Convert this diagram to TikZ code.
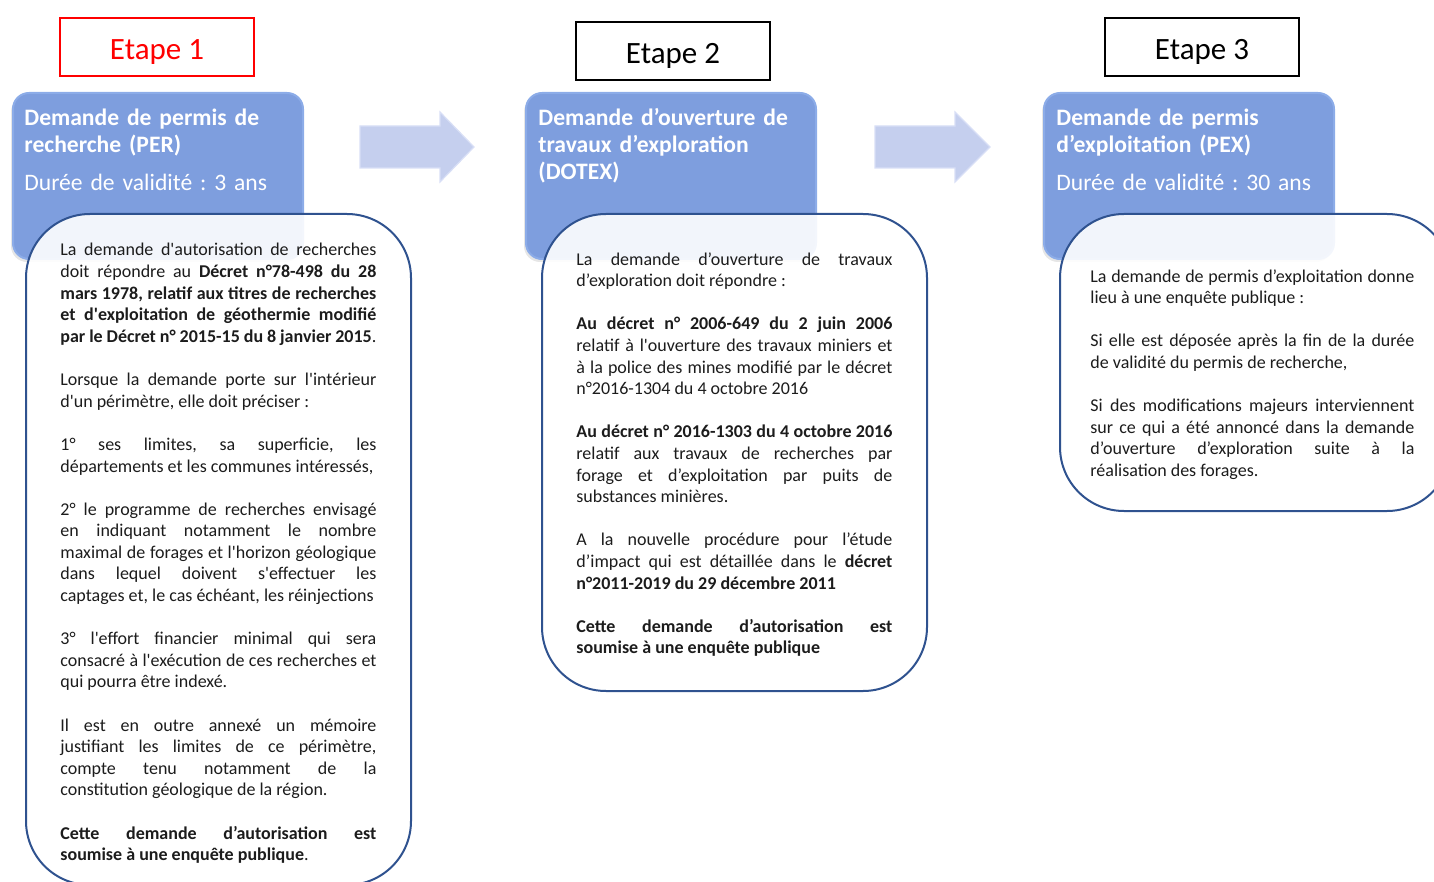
\documentclass[tikz,border=0pt]{standalone}
\usepackage{fontspec}
\setmainfont{Carlito}[Ligatures=TeXOff]
\usetikzlibrary{positioning,shadows}

\definecolor{permisblue}{RGB}{126,158,222}
\definecolor{permisedge}{RGB}{140,172,232}
\definecolor{flowarrow}{RGB}{197,207,238}
\definecolor{flowedge}{RGB}{216,223,246}
\definecolor{frameblue}{RGB}{47,82,143}
\definecolor{bodygray}{RGB}{28,28,28}

\tolerance=10000
\hbadness=10000
\hyphenpenalty=10000
\exhyphenpenalty=10000
\frenchspacing

% one empty line between two paragraphs
\newcommand{\blank}{\par\vspace{10.8pt}}

\begin{document}
\begin{tikzpicture}[x=0.5pt,y=-0.5pt,
    etape/.style={%
      rectangle, draw=black, line width=1pt, fill=white,
      minimum width=97pt, minimum height=29pt, inner sep=0pt,
      text height=13pt, text depth=0pt,
      font=\fontsize{15.5}{18}\selectfont
    },
    titlebox/.style={%
      rectangle, rounded corners=8pt, fill=permisblue, draw=permisedge,
      line width=1pt, minimum width=145pt, minimum height=83pt,
      anchor=north west,
      drop shadow={opacity=0.2, shadow xshift=-1pt, shadow yshift=-1.5pt}
    },
    titletext/.style={%
      anchor=base west, inner sep=0pt, text width=140pt, align=left,
      text=white, font=\fontsize{11.8}{13.5}\selectfont
    },
    bodybox/.style={%
      rectangle, rounded corners=32pt, draw=frameblue, line width=1pt,
      fill=white, fill opacity=0.9, minimum width=192.5pt, anchor=north west
    },
    bodytext/.style={%
      anchor=base west, inner sep=0pt, text width=158pt, align=justify,
      text=bodygray, font=\fontsize{9}{10.8}\selectfont
    },
    blockarrow/.style={fill=flowarrow, draw=flowedge, line width=0.6pt}
]
    \useasboundingbox (0,0) rectangle (1434,882);
    \clip (0,0) rectangle (1434,882);

    % steps
    \node[etape, draw=red, text=red] (etape1) at (157,47)  {Etape 1};
    \node[etape]                     (etape2) at (673,51)  {Etape 2};
    \node[etape]                     (etape3) at (1202,47) {Etape 3};

    % blue headers
    \node[titlebox] (per)   at (12,92)   {};
    \node[titlebox] (dotex) at (525,92)  {};
    \node[titlebox] (pex)   at (1043,92) {};

    \node[titletext] (pertitle) at (24,126)
      {\textbf{Demande de permis de}\\\textbf{recherche (PER)}\\[5.5pt]Durée de validité : 3 ans};
    \node[titletext] (dotextitle) at (538,126)
      {\textbf{Demande d’ouverture de}\\\textbf{travaux d’exploration}\\\textbf{(DOTEX)}};
    \node[titletext] (pextitle) at (1056,126)
      {\textbf{Demande de permis}\\\textbf{d’exploitation (PEX)}\\[5.5pt]Durée de validité : 30 ans};

    % arrows between the steps
    \draw[blockarrow] (360,126) -- (440,126) -- (440,112) -- (474,147)
      -- (440,182) -- (440,168) -- (360,168) -- cycle;
    \draw[blockarrow] (875,126) -- (955,126) -- (955,112) -- (990,147)
      -- (955,182) -- (955,168) -- (875,168) -- cycle;

    % white frames
    \node[bodybox, minimum height=335.5pt] (perbody)   at (25,213)   {};
    \node[bodybox, minimum height=238.5pt] (dotexbody) at (541,213)  {};
    \node[bodybox, minimum width=195.5pt, minimum height=148.5pt] (pexbody) at (1059,213) {};

    \node[bodytext] (pertext) at (60,256) {%
      La demande d'autorisation de recherches\linebreak
      doit répondre au \textbf{Décret n°78-498 du 28}\linebreak
      \textbf{mars 1978, relatif aux titres de recherches}\linebreak
      \textbf{et d'exploitation de géothermie modifié}\linebreak
      \textbf{par le Décret n° 2015-15 du 8 janvier 2015}.\blank
      Lorsque la demande porte sur l'intérieur\linebreak
      d'un périmètre, elle doit préciser :\blank
      1° ses limites, sa superficie, les\linebreak
      départements et les communes intéressés,\blank
      2° le programme de recherches envisagé\linebreak
      en indiquant notamment le nombre\linebreak
      maximal de forages et l'horizon géologique\linebreak
      dans lequel doivent s'effectuer les\linebreak
      captages et, le cas échéant, les réinjections\blank
      3° l'effort financier minimal qui sera\linebreak
      consacré à l'exécution de ces recherches et\linebreak
      qui pourra être indexé.\blank
      Il est en outre annexé un mémoire\linebreak
      justifiant les limites de ce périmètre,\linebreak
      compte tenu notamment de la\linebreak
      constitution géologique de la région.\blank
      \textbf{Cette demande d’autorisation est}\linebreak
      \textbf{soumise à une enquête publique}.};

    \node[bodytext] (dotextext) at (576,265) {%
      La demande d’ouverture de travaux\linebreak
      d’exploration doit répondre :\blank
      \textbf{Au décret n° 2006-649 du 2 juin 2006}\linebreak
      relatif à l'ouverture des travaux miniers et\linebreak
      à la police des mines modifié par le décret\linebreak
      n°2016-1304 du 4 octobre 2016\blank
      \textbf{Au décret n° 2016-1303 du 4 octobre 2016}\linebreak
      relatif aux travaux de recherches par\linebreak
      forage et d’exploitation par puits de\linebreak
      substances minières.\blank
      A la nouvelle procédure pour l’étude\linebreak
      d’impact qui est détaillée dans le \textbf{décret}\linebreak
      \textbf{n°2011-2019 du 29 décembre 2011}\blank
      \textbf{Cette demande d’autorisation est}\linebreak
      \textbf{soumise à une enquête publique}};

    \node[bodytext, text width=162pt] (pextext) at (1090,282) {%
      La demande de permis d’exploitation donne\linebreak
      lieu à une enquête publique :\blank
      Si elle est déposée après la fin de la durée\linebreak
      de validité du permis de recherche,\blank
      Si des modifications majeurs interviennent\linebreak
      sur ce qui a été annoncé dans la demande\linebreak
      d’ouverture d’exploration suite à la\linebreak
      réalisation des forages.};
\end{tikzpicture}
\end{document}
